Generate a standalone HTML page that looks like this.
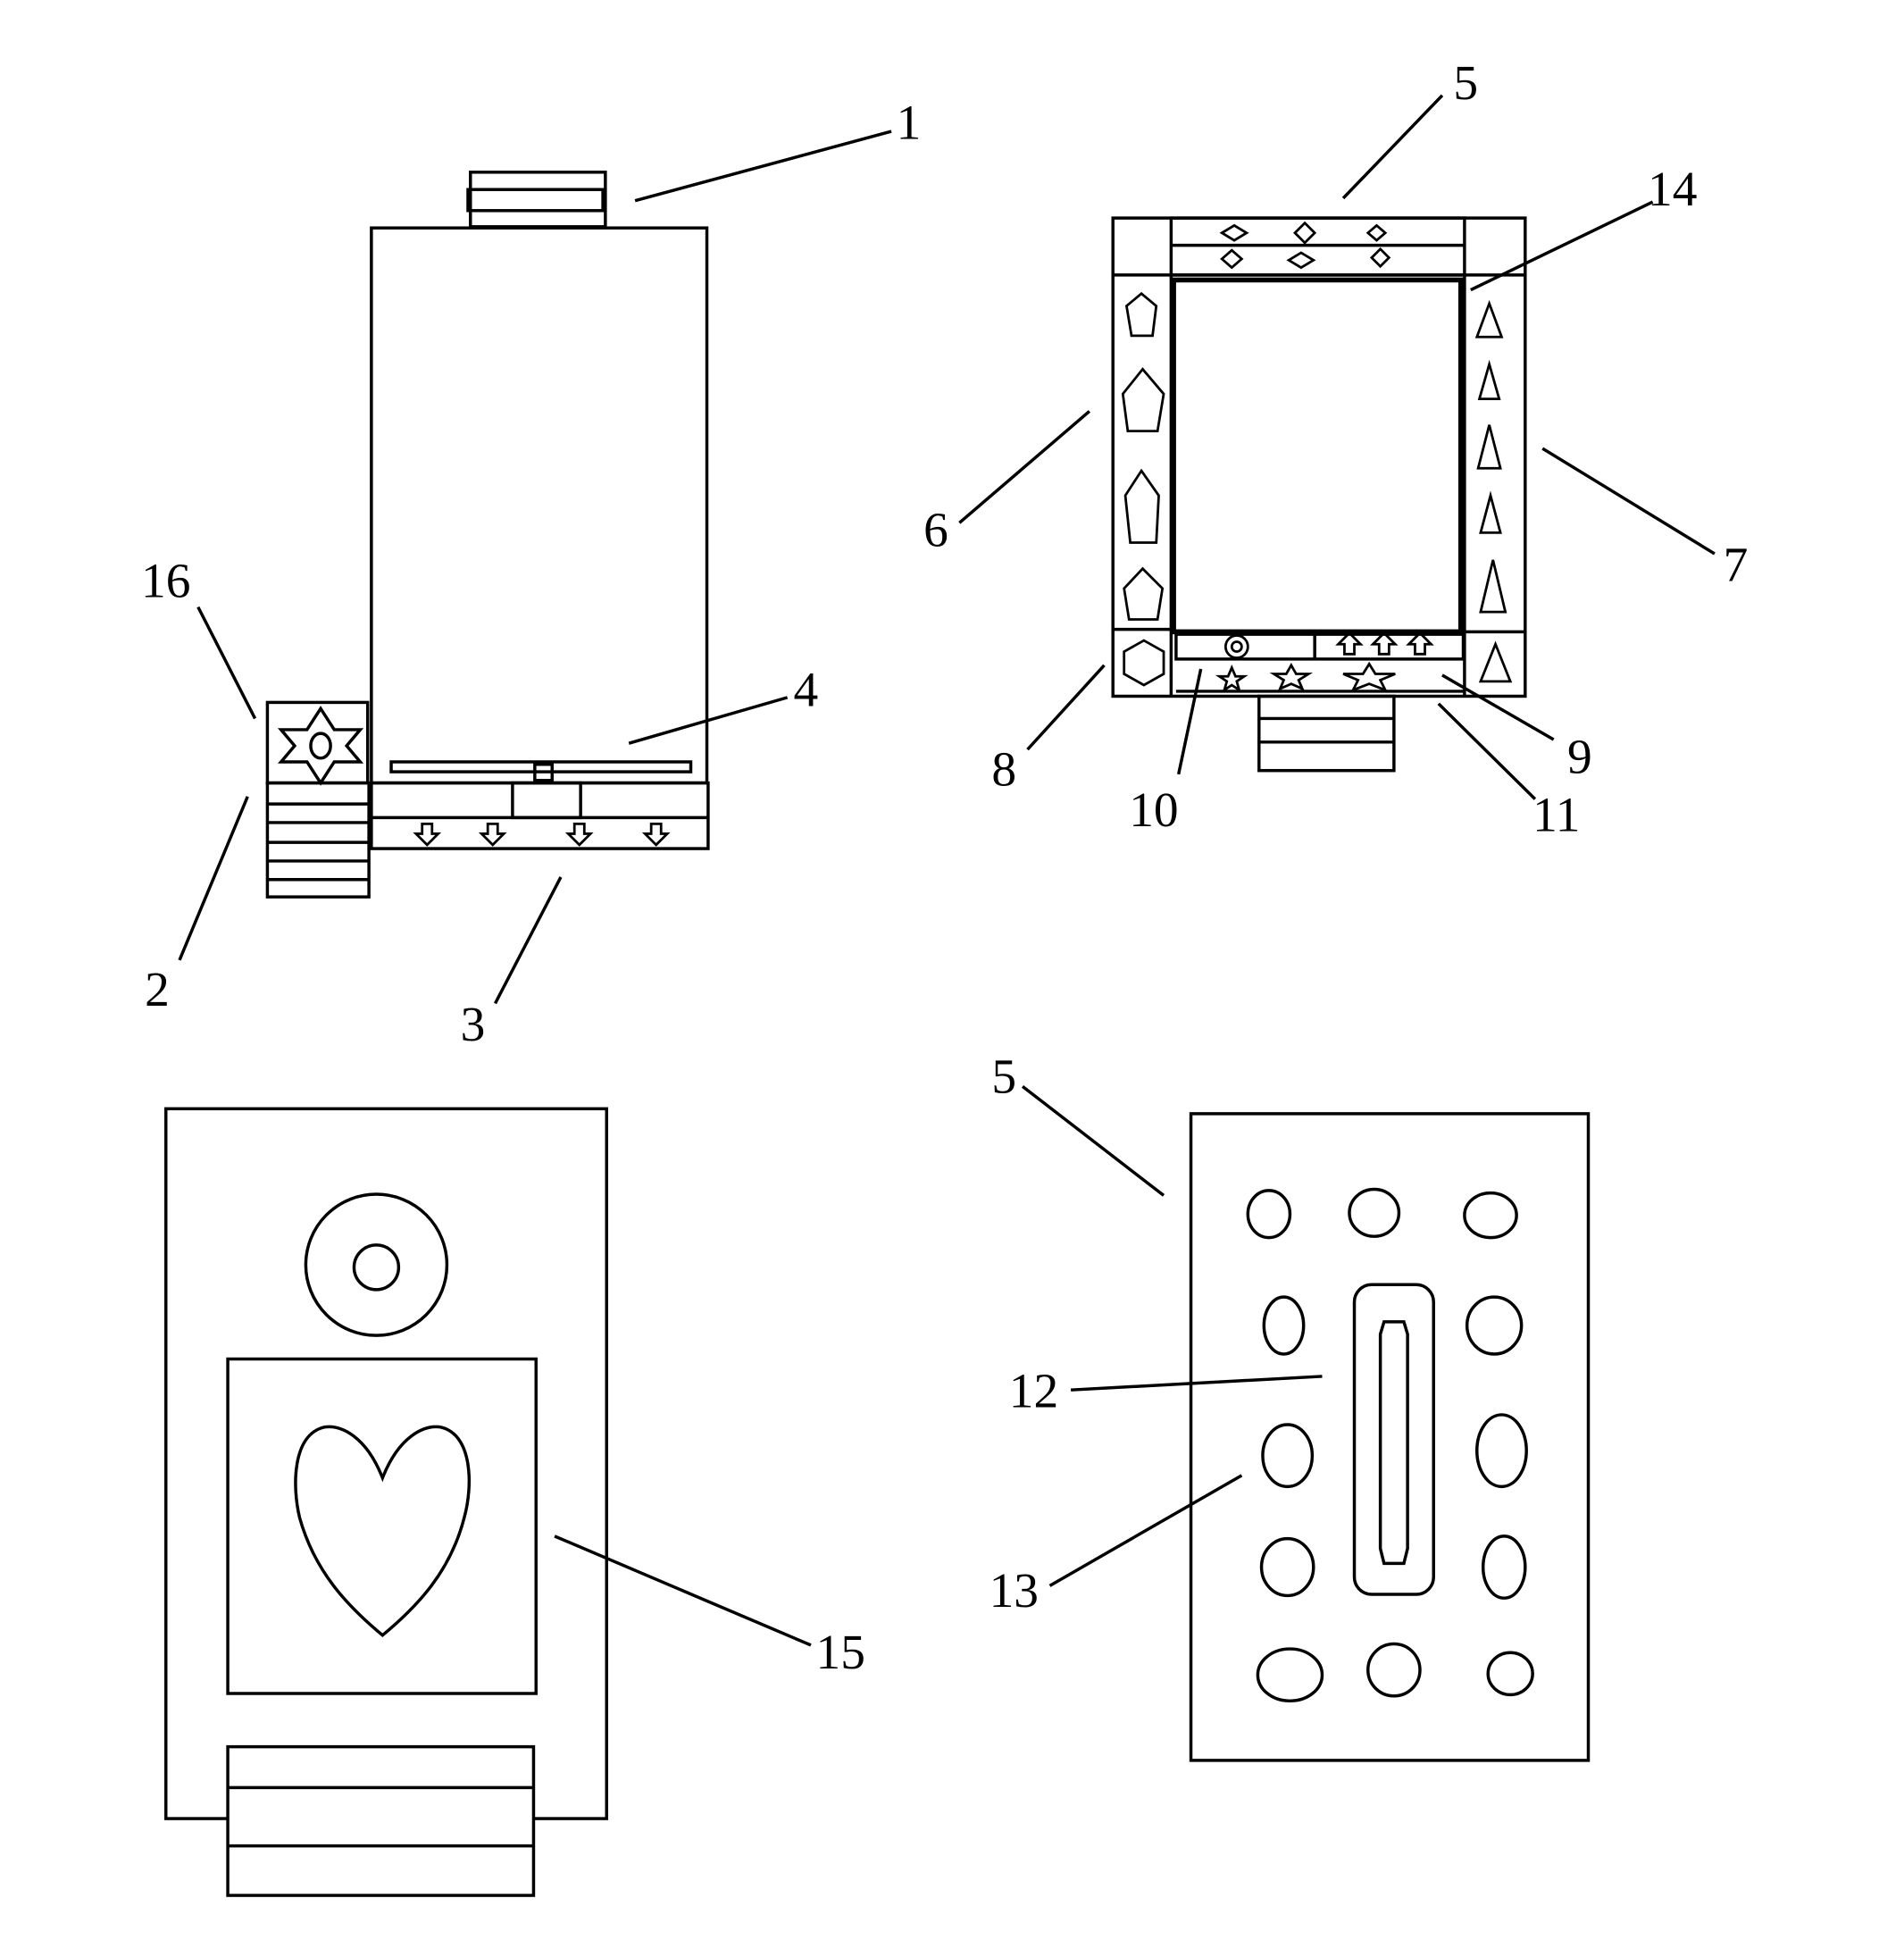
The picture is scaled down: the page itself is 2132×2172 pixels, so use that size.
<!DOCTYPE html>
<html><head><meta charset="utf-8"><style>
html,body{margin:0;padding:0;background:#fff;width:2132px;height:2172px;overflow:hidden}
svg{display:block}
text{font-family:"Liberation Serif",serif;font-size:40px;fill:#000}
</style></head><body>
<svg width="2132" height="2172" viewBox="0 0 1538 1566" preserveAspectRatio="none" fill="none" stroke="#000" stroke-width="2.5">
<g>
<rect x="380" y="139" width="109" height="44"/><rect x="378" y="153" width="109" height="17"/>
<rect x="300" y="184" width="271" height="448"/>
<rect x="316" y="615" width="242" height="8"/><rect x="432" y="617" width="14" height="13"/>
<rect x="300" y="632" width="272" height="53"/><line x1="300" y1="660" x2="572" y2="660"/>
<rect x="414" y="632" width="55" height="28"/>
<g stroke-width="2">
<path d="M341 665h8v8h5l-9 9-9-9h5z"/><path d="M394 665h8v8h5l-9 9-9-9h5z"/><path d="M464 665h8v8h5l-9 9-9-9h5z"/><path d="M526 665h8v8h5l-9 9-9-9h5z"/>
</g>
<rect x="216" y="567" width="81" height="65"/>
<path d="M259 572l11 17h21l-11 13 11 13h-21l-11 17-11-17h-21l11-13-11-13h21z"/>
<ellipse cx="259" cy="602" rx="8" ry="10"/>
<rect x="216" y="632" width="82" height="92"/>
<path d="M216 649h82M216 664h82M216 680h82M216 695h82M216 710h82"/>
<path d="M513 162L720 106M160 490L206 580M200 643L145 775M453 708L400 810M508 600L636 563"/>
</g>
<g stroke="none">
<text x="724" y="112">1</text><text x="114" y="482">16</text><text x="117" y="812">2</text><text x="372" y="840">3</text><text x="641" y="570">4</text>
<text x="1174" y="80">5</text><text x="1331" y="166">14</text><text x="746" y="441">6</text><text x="1392" y="469">7</text><text x="801" y="634">8</text><text x="912" y="667">10</text><text x="1266" y="624">9</text><text x="1238" y="671">11</text>
<text x="659" y="1347">15</text><text x="801" y="882">5</text><text x="815" y="1136">12</text><text x="799" y="1297">13</text>
</g>
<g>
<rect x="899" y="176" width="333" height="386"/>
<rect x="946" y="176" width="237" height="46"/><line x1="946" y1="198" x2="1183" y2="198"/>
<line x1="899" y1="222" x2="1232" y2="222"/>
<rect x="948" y="226" width="232" height="284" stroke-width="4"/>
<line x1="946" y1="222" x2="946" y2="562"/><line x1="1183" y1="222" x2="1183" y2="562"/>
<line x1="899" y1="508" x2="946" y2="508"/><line x1="1183" y1="510" x2="1232" y2="510"/>
<rect x="950" y="512" width="232" height="20"/><line x1="950" y1="558" x2="1182" y2="558"/>
<line x1="1062" y1="512" x2="1062" y2="532"/>
<rect x="1017" y="562" width="109" height="60"/><path d="M1017 580h109M1017 599h109"/>
<g stroke-width="2">
<path d="M987 188l10-6 10 6-10 6z"/><path d="M1046 188l8-8 8 8-8 8z"/><path d="M1105 188l7-6 7 6-7 6z"/>
<path d="M987 209l8-7 8 7-8 7z"/><path d="M1041 210l10-6 10 6-10 6z"/><path d="M1108 208l7-7 7 7-7 7z"/>
<path d="M922 237l12 10-3 24h-17l-4-24z"/><path d="M923 298l17 20-5 30h-24l-4-30z"/><path d="M922 380l14 20-2 38h-21l-4-38z"/><path d="M923 459l16 16-4 25h-23l-4-25z"/>
<path d="M924 517l16 9v18l-16 9-16-9v-18z"/>
<path d="M1203 245l10 27h-20z"/><path d="M1203 294l8 28h-16z"/><path d="M1203 343l9 35h-18z"/><path d="M1204 400l8 30h-16z"/><path d="M1206 452l10 42h-20z"/><path d="M1208 520l12 30h-24z"/>
<circle cx="999" cy="522" r="9"/><circle cx="999" cy="522" r="4"/>
<path d="M1086 528v-8h-5l9-9 9 9h-5v8z"/><path d="M1114 528v-8h-5l9-9 9 9h-5v8z"/><path d="M1143 528v-8h-5l9-9 9 9h-5v8z"/>
<path d="M995 539l3 7h7l-6 4 2 7-6-4-6 4 2-7-6-4h7z"/><path d="M1043 537l4 7h10l-8 5 3 7-9-4-9 4 3-7-8-5h10z"/><path d="M1106 536l5 8h16l-12 5 4 8-13-5-13 5 4-8-12-5h16z"/>
</g>
<path d="M1085 160L1165 77M1188 234L1335 163M775 422L880 332M1246 362L1385 447M830 605L892 537M952 625L970 540M1165 545L1255 597M1162 568L1240 645"/>
</g>
<g>
<rect x="134" y="895" width="356" height="573"/>
<circle cx="304" cy="1021" r="57"/><circle cx="304" cy="1023" r="18"/>
<rect x="184" y="1097" width="249" height="270"/>
<path d="M309 1193C296 1160 276 1150 262 1152C236 1158 236 1200 242 1225C254 1268 280 1296 309 1320C338 1296 364 1268 375 1225C382 1200 382 1158 356 1152C342 1150 322 1160 309 1193Z"/>
<rect x="184" y="1410" width="247" height="120" fill="#fff"/><path d="M184 1443h247M184 1490h247"/>
<path d="M448 1240L655 1328"/>
</g>
<g>
<rect x="962" y="899" width="321" height="522"/>
<ellipse cx="1025" cy="980" rx="17" ry="19"/><ellipse cx="1110" cy="979" rx="20" ry="19"/><ellipse cx="1204" cy="981" rx="21" ry="18"/>
<ellipse cx="1037" cy="1070" rx="16" ry="23"/><ellipse cx="1207" cy="1070" rx="22" ry="23"/>
<ellipse cx="1040" cy="1175" rx="20" ry="25"/><ellipse cx="1213" cy="1171" rx="20" ry="29"/>
<ellipse cx="1040" cy="1265" rx="21" ry="23"/><ellipse cx="1215" cy="1265" rx="17" ry="25"/>
<ellipse cx="1042" cy="1352" rx="26" ry="21"/><ellipse cx="1126" cy="1348" rx="21" ry="21"/><ellipse cx="1220" cy="1351" rx="18" ry="17"/>
<rect x="1094" y="1037" width="64" height="250" rx="14"/>
<path d="M1118 1067h16l3 10v173l-3 12h-16l-3-12v-173z"/>
<path d="M826 877L940 965M865 1122L1068 1111M848 1280L1003 1191"/>
</g>
</svg>
</body></html>
